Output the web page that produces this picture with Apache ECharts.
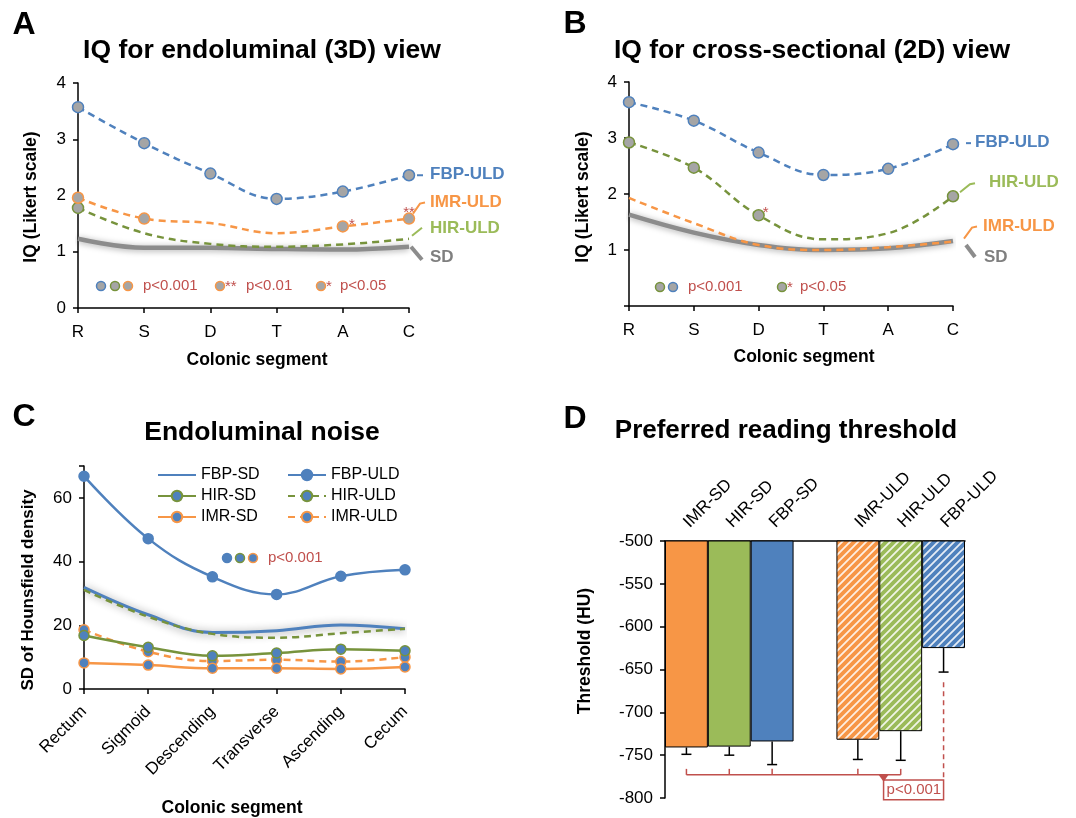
<!DOCTYPE html>
<html>
<head>
<meta charset="utf-8">
<script src="https://cdn.jsdelivr.net/npm/echarts@6/dist/echarts.min.js"></script>
<style>
  html, body { margin: 0; padding: 0; background: #fff; }
  #main { width: 1076px; height: 818px; }
</style>
</head>
<body>
<div id="main"></div>
<script>
// ---- data ----
var segShort = ['R', 'S', 'D', 'T', 'A', 'C'];
var segLong = ['Rectum', 'Sigmoid', 'Descending', 'Transverse', 'Ascending', 'Cecum'];

// A: IQ endoluminal (3D)
var aFbpUld = [3.57, 2.93, 2.39, 1.94, 2.07, 2.36];
var aImrUld = [1.96, 1.59, 1.51, 1.33, 1.45, 1.59];
var aHirUld = [1.78, 1.33, 1.14, 1.09, 1.13, 1.23];
var aSd = [1.23, 1.07, 1.07, 1.05, 1.04, 1.09];
var aImrMark = [1, 1, 0, 0, 1, 1];
var aHirMark = [1, 0, 0, 0, 0, 0];
var aImrStars = ['', '', '', '', '*', '**'];

// B: IQ cross-sectional (2D)
var bFbpUld = [3.64, 3.31, 2.74, 2.34, 2.45, 2.89];
var bHirUld = [2.92, 2.47, 1.62, 1.19, 1.30, 1.96];
var bImrUld = [1.93, 1.48, 1.09, 1.00, 1.05, 1.15];
var bSd = [1.63, 1.31, 1.09, 1.00, 1.03, 1.16];
var bHirMark = [1, 1, 1, 0, 0, 1];
var bHirStars = ['', '', '*', '', '', ''];
var bYLabels = ['', '1', '2', '3', '4'];

// C: endoluminal noise
var cFbpSd = [31.9, 23.3, 17.7, 18.3, 20.1, 18.9];
var cFbpUld = [66.8, 47.2, 35.2, 29.7, 35.4, 37.4];
var cHirSd = [16.8, 13.1, 10.4, 11.3, 12.5, 12.0];
var cHirUld = [31.1, 22.7, 17.3, 16.1, 17.5, 18.9];
var cImrSd = [8.2, 7.5, 6.5, 6.5, 6.3, 6.9];
var cImrUld = [18.6, 11.7, 8.8, 9.2, 8.6, 10.0];

// D: preferred reading threshold
var dCats = ['IMR-SD', 'HIR-SD', 'FBP-SD', '', 'IMR-ULD', 'HIR-ULD', 'FBP-ULD'];
var dVals = [-741, -740, -734, null, -732, -722, -625];
var dErr = [8, 10, 27, null, 23, 34, 28];
var dHatch = [0, 0, 0, 0, 1, 1, 1];

var BLUE = '#4f81bd', ORANGE = '#f79646', GREEN = '#9bbb59', DKGREEN = '#77933c';
var GRAY = '#7f7f7f', MGRAY = '#a5a5a5', RED = '#c0504d';
var FONT = '"Liberation Sans", Arial, Helvetica, sans-serif';
var dColors = [ORANGE, GREEN, BLUE, '#fff', ORANGE, GREEN, BLUE];

function hatch(c) {
  var cv = document.createElement('canvas');
  cv.width = 8; cv.height = 8;
  var g = cv.getContext('2d');
  g.fillStyle = c; g.fillRect(0, 0, 8, 8);
  g.strokeStyle = 'rgba(255,255,255,0.85)';
  g.lineWidth = 1.8;
  g.beginPath();
  g.moveTo(-1, 9); g.lineTo(9, -1);
  g.moveTo(-3, 3); g.lineTo(3, -3);
  g.moveTo(5, 11); g.lineTo(11, 5);
  g.stroke();
  return cv;
}

function marked(vals, marks, stars, offs) {
  return vals.map(function (v, i) {
    var it = { value: v, symbolSize: marks[i] ? 11 : 0 };
    if (stars && stars[i]) {
      it.label = { show: true, formatter: stars[i], position: 'inside', offset: offs[i],
        color: RED, fontSize: 15, fontFamily: FONT };
    }
    return it;
  });
}

var all6 = [1, 1, 1, 1, 1, 1];

function catAxis(grid, data, extra) {
  var ax = {
    type: 'category', gridIndex: grid, data: data, boundaryGap: false,
    axisLine: { show: true, lineStyle: { color: '#000', width: 1.5 } },
    axisTick: { show: true, length: 5, lineStyle: { color: '#000', width: 1.5 } },
    axisLabel: { color: '#000', fontSize: 17, fontFamily: FONT, margin: 16 },
    splitLine: { show: false }
  };
  return Object.assign(ax, extra || {});
}
function valAxis(grid, min, max, interval, fmt) {
  return {
    type: 'value', gridIndex: grid, min: min, max: max, interval: interval,
    axisLine: { show: true, lineStyle: { color: '#000', width: 1.5 } },
    axisTick: { show: true, length: 5, lineStyle: { color: '#000', width: 1.5 } },
    axisLabel: { color: '#000', fontSize: 17, fontFamily: FONT, margin: 12, formatter: fmt },
    splitLine: { show: false }
  };
}

function ulLine(name, g, data, color) {
  return {
    name: name, type: 'line', xAxisIndex: g, yAxisIndex: g, data: data, smooth: 0.4,
    symbol: 'circle', symbolSize: 11, z: 5,
    lineStyle: { color: color, width: 2.5, type: [7, 5] },
    itemStyle: { color: MGRAY, borderColor: color, borderWidth: 1.5 }
  };
}
function sdLine(name, g, data) {
  return {
    name: name, type: 'line', xAxisIndex: g, yAxisIndex: g, data: data, smooth: 0.4,
    symbol: 'none', z: 2,
    lineStyle: { color: '#8c8c8c', width: 4.5, shadowBlur: 6, shadowColor: 'rgba(0,0,0,0.35)', shadowOffsetY: 1 }
  };
}
function cLine(name, data, color, dashed, showSym) {
  return {
    name: name, type: 'line', xAxisIndex: 2, yAxisIndex: 2, data: data, smooth: 0.4,
    symbol: 'circle', symbolSize: 10, showSymbol: showSym,
    lineStyle: { color: color, width: 2.5, type: dashed ? [7, 5] : 'solid' },
    itemStyle: { color: BLUE, borderColor: color, borderWidth: 1.5 }, z: 4
  };
}

var chart = echarts.init(document.getElementById('main'));

var legendBase = {
  orient: 'vertical', top: 467, padding: 0,
  itemWidth: 38, itemHeight: 13, itemGap: 5,
  textStyle: { color: '#000', fontSize: 16, fontFamily: FONT }
};

var option = {
  animation: false,
  textStyle: { fontFamily: FONT },
  grid: [
    { left: 78, top: 83, width: 331, height: 225 },
    { left: 629, top: 82, width: 324, height: 224 },
    { left: 84, top: 466, width: 321, height: 223 },
    { left: 665, top: 541, width: 300, height: 257 }
  ],
  xAxis: [
    catAxis(0, segShort),
    catAxis(1, segShort),
    catAxis(2, segLong, { axisLabel: { color: '#000', fontSize: 17, fontFamily: FONT, margin: 20, rotate: 45, interval: 0 } }),
    {
      type: 'category', gridIndex: 3, data: dCats, position: 'top',
      axisLine: { show: true, lineStyle: { color: '#000', width: 1.5 } },
      axisTick: { show: false },
      axisLabel: { color: '#000', fontSize: 17, fontFamily: FONT, rotate: -45, margin: 16, interval: 0 },
      splitLine: { show: false }
    }
  ],
  yAxis: [
    valAxis(0, 0, 4, 1),
    valAxis(1, 0, 4, 1, function (v) { return bYLabels[v]; }),
    valAxis(2, 0, 70, 20, function (v) { return v % 20 === 0 ? String(v) : ''; }),
    valAxis(3, -800, -500, 50)
  ],
  legend: [
    Object.assign({ left: 157, data: [{ name: 'FBP-SD', itemStyle: { opacity: 0 } }, 'HIR-SD', 'IMR-SD'] }, legendBase),
    Object.assign({ left: 287, data: ['FBP-ULD', 'HIR-ULD', 'IMR-ULD'] }, legendBase)
  ],
  series: [
    // A
    sdLine('A-SD', 0, aSd),
    ulLine('A-HIR', 0, marked(aHirUld, aHirMark), DKGREEN),
    ulLine('A-IMR', 0, marked(aImrUld, aImrMark, aImrStars,
      [0, 0, 0, 0, [9, -1.5], [0, -5.5]]), ORANGE),
    ulLine('A-FBP', 0, marked(aFbpUld, all6), BLUE),
    // B
    sdLine('B-SD', 1, bSd),
    ulLine('B-IMR', 1, marked(bImrUld, [0, 0, 0, 0, 0, 0]), ORANGE),
    ulLine('B-HIR', 1, marked(bHirUld, bHirMark, bHirStars,
      [0, 0, [7, -2.5], 0, 0, 0]), DKGREEN),
    ulLine('B-FBP', 1, marked(bFbpUld, all6), BLUE),
    // C
    Object.assign(cLine('FBP-SD', cFbpSd, BLUE, false, false), {
      lineStyle: { color: BLUE, width: 3, shadowBlur: 8, shadowColor: 'rgba(0,0,0,0.45)', shadowOffsetY: 1 }, z: 3
    }),
    cLine('HIR-ULD', cHirUld, DKGREEN, true, false),
    cLine('IMR-ULD', cImrUld, ORANGE, true, true),
    cLine('HIR-SD', cHirSd, DKGREEN, false, true),
    cLine('IMR-SD', cImrSd, ORANGE, false, true),
    cLine('FBP-ULD', cFbpUld, BLUE, false, true),
    // D
    {
      name: 'threshold', type: 'bar', xAxisIndex: 3, yAxisIndex: 3, barCategoryGap: '0%', clip: true,
      data: dVals.map(function (v, i) {
        if (v === null) return '-';
        return {
          value: v,
          itemStyle: {
            color: dHatch[i] ? { image: hatch(dColors[i]), repeat: 'repeat' } : dColors[i],
            borderColor: '#000', borderWidth: 1
          }
        };
      })
    },
    {
      name: 'err', type: 'custom', xAxisIndex: 3, yAxisIndex: 3, z: 10, clip: false,
      data: dVals.map(function (v, i) { return [i, v, dErr[i]]; }).filter(function (d) { return d[1] !== null; }),
      renderItem: function (params, api) {
        var x = api.value(0), v = api.value(1), e = api.value(2);
        var p0 = api.coord([x, v]), p1 = api.coord([x, v - e]);
        return {
          type: 'group', children: [
            { type: 'line', shape: { x1: p0[0], y1: p0[1], x2: p1[0], y2: p1[1] }, style: { stroke: '#000', lineWidth: 1.5 } },
            { type: 'line', shape: { x1: p1[0] - 5, y1: p1[1], x2: p1[0] + 5, y2: p1[1] }, style: { stroke: '#000', lineWidth: 1.5 } }
          ]
        };
      }
    }
  ]
};
chart.setOption(option);

// ---- annotations ----
function px(g, x, y) { return chart.convertToPixel({ xAxisIndex: g, yAxisIndex: g }, [x, y]); }
function txt(x, y, s, size, color, bold, align, rot) {
  return {
    type: 'text', x: x, y: y, rotation: rot || 0, silent: true, z: 20,
    style: {
      text: s, fill: color || '#000', fontSize: size, fontWeight: bold ? 'bold' : 'normal',
      fontFamily: FONT, textAlign: align || 'left', textVerticalAlign: 'middle'
    }
  };
}
function poly(pts, color, w, dash) {
  return { type: 'polyline', silent: true, z: 20, shape: { points: pts },
    style: { stroke: color, lineWidth: w, fill: null, lineDash: dash || null } };
}
function dot(x, y, fill, border) {
  return { type: 'circle', silent: true, z: 20, shape: { cx: x, cy: y, r: 4.5 },
    style: { fill: fill, stroke: border, lineWidth: 1.5 } };
}
var g = [];
// panel letters and titles
g.push(txt(24, 25, 'A', 32, '#000', true, 'center'));
g.push(txt(575, 24, 'B', 32, '#000', true, 'center'));
g.push(txt(24, 417, 'C', 32, '#000', true, 'center'));
g.push(txt(575, 419, 'D', 32, '#000', true, 'center'));
g.push(txt(262, 51, 'IQ for endoluminal (3D) view', 26.5, '#000', true, 'center'));
g.push(txt(812, 51, 'IQ for cross-sectional (2D) view', 26.5, '#000', true, 'center'));
g.push(txt(262, 433, 'Endoluminal noise', 26.5, '#000', true, 'center'));
g.push(txt(786, 431, 'Preferred reading threshold', 26, '#000', true, 'center'));
// axis names
g.push(txt(31, 197, 'IQ (Likert scale)', 17.5, '#000', true, 'center', Math.PI / 2));
g.push(txt(257, 360, 'Colonic segment', 17.5, '#000', true, 'center'));
g.push(txt(583, 197, 'IQ (Likert scale)', 17.5, '#000', true, 'center', Math.PI / 2));
g.push(txt(804, 357, 'Colonic segment', 17.5, '#000', true, 'center'));
g.push(txt(28, 590, 'SD of Hounsfield density', 17, '#000', true, 'center', Math.PI / 2));
g.push(txt(232, 808, 'Colonic segment', 17.5, '#000', true, 'center'));
g.push(txt(585, 651, 'Threshold (HU)', 17.5, '#000', true, 'center', Math.PI / 2));

// A end labels
var p = px(0, 5, aFbpUld[5]);
g.push(poly([[p[0] + 8, p[1]], [p[0] + 14, p[1]]], BLUE, 2));
g.push(txt(p[0] + 21, p[1] - 1, 'FBP-ULD', 17, BLUE, true));
p = px(0, 5, aImrUld[5]);
g.push(poly([[p[0] + 4, p[1] - 5], [p[0] + 11, p[1] - 15], [p[0] + 16, p[1] - 16]], ORANGE, 2));
g.push(txt(p[0] + 21, p[1] - 16, 'IMR-ULD', 17, ORANGE, true));
p = px(0, 5, aHirUld[5]);
g.push(poly([[p[0] + 3, p[1] - 3], [p[0] + 13, p[1] - 11]], GREEN, 2));
g.push(txt(p[0] + 21, p[1] - 11, 'HIR-ULD', 17, GREEN, true));
p = px(0, 5, aSd[5]);
g.push(poly([[p[0] + 2, p[1]], [p[0] + 13, p[1] + 13]], '#8c8c8c', 4));
g.push(txt(p[0] + 21, p[1] + 11, 'SD', 17, GRAY, true));
// B end labels
p = px(1, 5, bFbpUld[5]);
g.push(poly([[p[0] + 13, p[1] - 1], [p[0] + 18, p[1] - 1]], BLUE, 2));
g.push(txt(p[0] + 22, p[1] - 2, 'FBP-ULD', 17, BLUE, true));
p = px(1, 5, bHirUld[5]);
g.push(poly([[p[0] + 7, p[1] - 4], [p[0] + 17, p[1] - 12], [p[0] + 22, p[1] - 13]], GREEN, 2));
g.push(txt(p[0] + 36, p[1] - 14, 'HIR-ULD', 17, GREEN, true));
p = px(1, 5, bImrUld[5]);
g.push(poly([[p[0] + 11, p[1] - 3], [p[0] + 19, p[1] - 14], [p[0] + 24, p[1] - 15]], ORANGE, 2));
g.push(txt(p[0] + 30, p[1] - 15, 'IMR-ULD', 17, ORANGE, true));
p = px(1, 5, bSd[5]);
g.push(poly([[p[0] + 13, p[1] + 4], [p[0] + 22, p[1] + 16]], '#8c8c8c', 4));
g.push(txt(p[0] + 31, p[1] + 16, 'SD', 17, GRAY, true));

// p-value keys
g.push(dot(101, 286, MGRAY, BLUE), dot(115, 286, MGRAY, DKGREEN), dot(128, 286, MGRAY, ORANGE));
g.push(txt(143, 286, 'p<0.001', 15, RED));
g.push(dot(220, 286, MGRAY, ORANGE), txt(225, 287, '**', 15, RED), txt(246, 286, 'p<0.01', 15, RED));
g.push(dot(321, 286, MGRAY, ORANGE), txt(326, 287, '*', 15, RED), txt(340, 286, 'p<0.05', 15, RED));
g.push(dot(660, 287, MGRAY, DKGREEN), dot(673, 287, MGRAY, BLUE));
g.push(txt(688, 287, 'p<0.001', 15, RED));
g.push(dot(782, 287, MGRAY, DKGREEN), txt(787, 288, '*', 15, RED), txt(800, 287, 'p<0.05', 15, RED));
g.push(dot(227, 558, BLUE, BLUE), dot(240, 558, BLUE, DKGREEN), dot(253, 558, BLUE, ORANGE));
g.push(txt(268, 558, 'p<0.001', 15, RED));

// D significance bracket
var lvl = px(3, 0, -773)[1], tickTop = px(3, 0, -766)[1];
var xs = [0, 1, 2, 4, 5].map(function (i) { return px(3, i, -773)[0]; });
g.push(poly([[xs[0], lvl], [xs[4], lvl]], RED, 1.5));
xs.forEach(function (x) { g.push(poly([[x, tickTop], [x, lvl]], RED, 1.5)); });
var tx = xs[3] + 0.6 * (xs[4] - xs[3]);
g.push({ type: 'polygon', silent: true, z: 20, shape: { points: [[tx - 5, lvl], [tx + 5, lvl], [tx, lvl + 7]] }, style: { fill: RED } });
var bx1 = px(3, 6, -779)[0], by1 = px(3, 6, -779)[1], by2 = px(3, 6, -802)[1];
g.push({ type: 'rect', silent: true, z: 20, shape: { x: tx, y: by1, width: bx1 - tx, height: by2 - by1 }, style: { fill: null, stroke: RED, lineWidth: 1.5 } });
g.push(txt(tx + 3, (by1 + by2) / 2, 'p<0.001', 15, RED));
var dTop = px(3, 6, -665)[1];
g.push(poly([[bx1, dTop], [bx1, by1]], RED, 1.5, [5, 4]));

chart.setOption({ graphic: g });
</script>
</body>
</html>
